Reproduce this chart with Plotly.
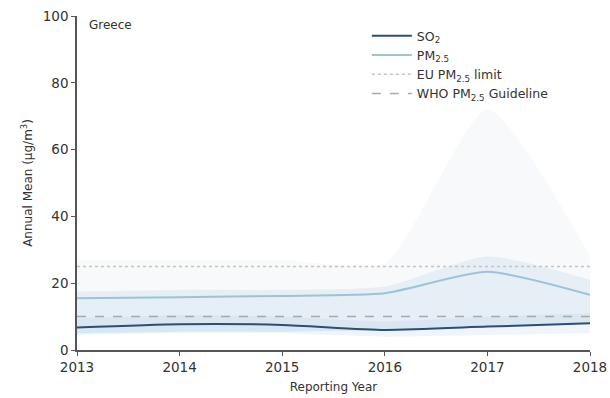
import plotly.graph_objects as go

years = [2013, 2014, 2015, 2016, 2017, 2018]

so2_mean = [6.7, 7.7, 7.5, 6.0, 7.0, 8.0]
so2_low = [4.5, 5.0, 5.0, 4.0, 4.5, 5.0]
so2_high = [9.5, 10.5, 10.0, 8.5, 10.0, 11.0]

pm25_mean = [15.5, 15.8, 16.2, 17.0, 23.4, 16.5]
pm25_low = [5.0, 5.5, 5.5, 6.0, 7.0, 8.0]
pm25_high = [17.5, 18.0, 18.0, 19.0, 28.0, 21.0]
pm25_outer_high = [27.0, 27.0, 27.0, 26.0, 72.0, 28.0]

eu_limit = 25
who_guideline = 10

so2_color = "#2e4d74"
pm_color = "#9dc3d9"
ref_color = "#a9a9a9"

fig = go.Figure()

# wide grey uncertainty envelope for PM2.5
fig.add_trace(go.Scatter(x=years, y=pm25_outer_high, mode="lines",
                         line=dict(width=0, shape="spline", smoothing=0.6),
                         showlegend=False, hoverinfo="skip"))
fig.add_trace(go.Scatter(x=years, y=pm25_low, mode="lines", line=dict(width=0, shape="spline", smoothing=0.6),
                         fill="tonexty", fillcolor="rgba(205,210,218,0.14)", showlegend=False, hoverinfo="skip"))

# PM2.5 band
fig.add_trace(go.Scatter(x=years, y=pm25_high, mode="lines", line=dict(width=0, shape="spline", smoothing=0.6),
                         showlegend=False, hoverinfo="skip"))
fig.add_trace(go.Scatter(x=years, y=pm25_low, mode="lines", line=dict(width=0, shape="spline", smoothing=0.6),
                         fill="tonexty", fillcolor="rgba(170,205,228,0.22)", showlegend=False, hoverinfo="skip"))

# SO2 band
fig.add_trace(go.Scatter(x=years, y=so2_high, mode="lines", line=dict(width=0, shape="spline", smoothing=0.6),
                         showlegend=False, hoverinfo="skip"))
fig.add_trace(go.Scatter(x=years, y=so2_low, mode="lines", line=dict(width=0, shape="spline", smoothing=0.6),
                         fill="tonexty", fillcolor="rgba(150,190,225,0.15)", showlegend=False, hoverinfo="skip"))

fig.add_trace(go.Scatter(x=years, y=so2_mean, mode="lines", name="SO<sub>2</sub>",
                         line=dict(color=so2_color, width=2, shape="spline", smoothing=0.6)))
fig.add_trace(go.Scatter(x=years, y=pm25_mean, mode="lines", name="PM<sub>2.5</sub>",
                         line=dict(color=pm_color, width=2, shape="spline", smoothing=0.6)))
fig.add_trace(go.Scatter(x=[years[0], years[-1]], y=[eu_limit, eu_limit], mode="lines",
                         name="EU PM<sub>2.5</sub> limit",
                         line=dict(color="#c4c4c4", width=1.5, dash="dot")))
fig.add_trace(go.Scatter(x=[years[0], years[-1]], y=[who_guideline, who_guideline], mode="lines",
                         name="WHO PM<sub>2.5</sub> Guideline",
                         line=dict(color=ref_color, width=1.5, dash="dash")))

axis_font = dict(family="DejaVu Sans", size=12, color="#333333")

fig.update_layout(
    width=610, height=398,
    margin=dict(l=77, r=20, t=16, b=48),
    paper_bgcolor="white", plot_bgcolor="white",
    font=axis_font,
    xaxis=dict(range=[2013, 2018], tickvals=years, showgrid=False, zeroline=False,
               showline=True, linecolor="#555555", linewidth=1.5,
               ticks="outside", ticklen=4, tickcolor="#555555", automargin=False,
               title=dict(text="Reporting Year", font=dict(size=12), standoff=9),
               tickfont=dict(size=13.5)),
    yaxis=dict(range=[0, 100], tickvals=[0, 20, 40, 60, 80, 100], showgrid=False, zeroline=False,
               showline=True, linecolor="#555555", linewidth=1.5,
               ticks="outside", ticklen=4, tickcolor="#555555", automargin=False,
               title=dict(text="Annual Mean (μg/m<sup>3</sup>)", font=dict(size=12), standoff=8),
               tickfont=dict(size=13.5)),
    legend=dict(x=0.565, y=0.985, xanchor="left", yanchor="top", bgcolor="rgba(255,255,255,0.8)",
                font=dict(size=12.5), traceorder="normal", tracegroupgap=0, itemwidth=40),
    showlegend=True,
)

fig.add_annotation(x=0.02, y=1.0, xref="paper", yref="paper", text="Greece", showarrow=False,
                   xanchor="left", yanchor="top", font=dict(size=12, color="#333333"))

fig.write_html("out.html")
